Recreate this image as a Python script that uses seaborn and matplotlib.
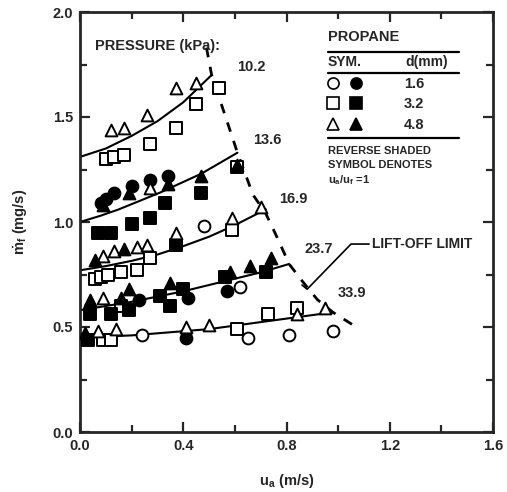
import matplotlib
matplotlib.use("Agg")
import matplotlib.pyplot as plt
import numpy as np
import pandas as pd
import seaborn as sns
from matplotlib.lines import Line2D
from matplotlib.legend_handler import HandlerTuple
from matplotlib.ticker import MultipleLocator

# ---------------- data ----------------
open_circle_x = [0.48, 0.62, 0.65, 0.81, 0.98, 0.24]
open_circle_y = [0.98, 0.69, 0.45, 0.46, 0.48, 0.46]

filled_circle_x = [0.08, 0.10, 0.13, 0.20, 0.27, 0.34, 0.23, 0.42, 0.57, 0.41]
filled_circle_y = [1.09, 1.11, 1.14, 1.17, 1.20, 1.22, 0.63, 0.64, 0.67, 0.45]

open_square_x = [0.10, 0.13, 0.17, 0.27, 0.37, 0.45, 0.54, 0.61,
                 0.06, 0.08, 0.11, 0.16, 0.22, 0.27, 0.59,
                 0.16, 0.09, 0.12, 0.61, 0.73, 0.84]
open_square_y = [1.30, 1.31, 1.32, 1.37, 1.45, 1.56, 1.64, 1.26,
                 0.73, 0.74, 0.75, 0.76, 0.77, 0.83, 0.96,
                 0.60, 0.44, 0.44, 0.49, 0.56, 0.59]

filled_square_x = [0.07, 0.12, 0.20, 0.27, 0.33, 0.47, 0.37,
                   0.04, 0.12, 0.19, 0.31, 0.35, 0.40, 0.56, 0.72, 0.03]
filled_square_y = [0.95, 0.95, 0.99, 1.02, 1.09, 1.14, 0.89,
                   0.56, 0.56, 0.58, 0.65, 0.60, 0.68, 0.74, 0.76, 0.44]

open_triangle_x = [0.12, 0.17, 0.26, 0.37, 0.45, 0.27,
                   0.09, 0.13, 0.22, 0.26, 0.37, 0.59, 0.70,
                   0.09, 0.07, 0.14, 0.41, 0.50, 0.84, 0.95]
open_triangle_y = [1.44, 1.45, 1.51, 1.64, 1.66, 1.16,
                   0.84, 0.86, 0.88, 0.89, 0.95, 1.02, 1.07,
                   0.64, 0.48, 0.49, 0.50, 0.51, 0.56, 0.59]

filled_triangle_x = [0.09, 0.19, 0.34, 0.47, 0.61, 0.06, 0.17,
                     0.04, 0.16, 0.19, 0.35, 0.58, 0.66, 0.74, 0.02]
filled_triangle_y = [1.08, 1.14, 1.18, 1.22, 1.27, 0.82, 0.87,
                     0.63, 0.64, 0.68, 0.71, 0.76, 0.79, 0.83, 0.47]

# fitted curves for each pressure
pressures = ["10.2", "13.6", "16.9", "23.7", "33.9"]
curve_x = [[0.0, 0.10, 0.20, 0.30, 0.40, 0.51],
           [0.0, 0.08, 0.15, 0.23, 0.31, 0.39, 0.47, 0.54, 0.61],
           [0.0, 0.10, 0.20, 0.30, 0.40, 0.50, 0.60, 0.72],
           [0.0, 0.10, 0.20, 0.30, 0.40, 0.50, 0.60, 0.70, 0.81],
           [0.0, 0.20, 0.35, 0.50, 0.62, 0.80, 0.98]]
curve_y = [[1.31, 1.35, 1.41, 1.48, 1.57, 1.70],
           [1.00, 1.03, 1.06, 1.10, 1.14, 1.185, 1.23, 1.28, 1.33],
           [0.77, 0.79, 0.815, 0.845, 0.885, 0.93, 0.985, 1.06],
           [0.58, 0.60, 0.62, 0.645, 0.67, 0.70, 0.73, 0.76, 0.80],
           [0.45, 0.46, 0.475, 0.49, 0.51, 0.54, 0.57]]
label_x = [0.61, 0.67, 0.77, 0.87, 1.00]
label_y = [1.74, 1.39, 1.11, 0.87, 0.66]

# lift-off limit (dashed)
lift_x = [0.49, 0.51, 0.61, 0.67, 0.72, 0.77, 0.81, 0.86, 0.92, 0.98, 1.07]
lift_y = [1.83, 1.70, 1.33, 1.13, 1.04, 0.91, 0.80, 0.72, 0.63, 0.57, 0.50]

legend_d = ["1.6", "3.2", "4.8"]

# ---------------- style ----------------
sns.set_style("ticks")
plt.rcParams["font.family"] = ["Liberation Sans", "DejaVu Sans"]
plt.rcParams["font.weight"] = "bold"
plt.rcParams["mathtext.default"] = "regular"
plt.rcParams["axes.linewidth"] = 2.0

fig = plt.figure(figsize=(5.07, 4.92), dpi=100)
ax = fig.add_axes([80 / 507, 1 - 432 / 492, (493 - 80) / 507, (432 - 12) / 492])

S = 72
groups = [
    (open_circle_x, open_circle_y, "o", "white"),
    (filled_circle_x, filled_circle_y, "o", "black"),
    (open_square_x, open_square_y, "s", "white"),
    (filled_square_x, filled_square_y, "s", "black"),
    (open_triangle_x, open_triangle_y, "^", "white"),
    (filled_triangle_x, filled_triangle_y, "^", "black"),
]
for gx, gy, mk, fc in groups:
    df = pd.DataFrame({"u": gx, "m": gy})
    sns.scatterplot(data=df, x="u", y="m", marker=mk, s=S, color=fc,
                    edgecolor="black", linewidth=1.4, ax=ax, zorder=3)

for cx, cy in zip(curve_x, curve_y):
    sns.lineplot(x=cx, y=cy, sort=False, color="black", lw=1.5, ax=ax, zorder=2)

sns.lineplot(x=lift_x, y=lift_y, sort=False, color="black", lw=2.0,
             linestyle=(0, (3.5, 3.5)), ax=ax, zorder=2)

for p, lx, ly in zip(pressures, label_x, label_y):
    ax.text(lx, ly, p, fontsize=10.5, fontweight="bold", va="center", ha="left")

ax.text(0.06, 1.84, "PRESSURE (kPa):", fontsize=10.5, fontweight="bold",
        va="center", ha="left")

# lift-off limit leader
ax.plot([0.86, 0.88, 1.05, 1.12], [0.70, 0.68, 0.895, 0.895], color="black", lw=1.2)
ax.text(1.13, 0.895, "LIFT-OFF LIMIT", fontsize=10, fontweight="bold",
        va="center", ha="left")

# legend block
ax.text(0.96, 1.88, "PROPANE", fontsize=10.5, fontweight="bold", va="center", ha="left")
ax.text(0.96, 1.76, "SYM.", fontsize=10, fontweight="bold", va="center", ha="left")
ax.text(1.26, 1.76, "d(mm)", fontsize=10, fontweight="bold", va="center", ha="left")
for yy in [1.81, 1.71, 1.40]:
    ax.plot([0.96, 1.47], [yy, yy], color="black", lw=1.6)
ax.text(0.96, 1.34, "REVERSE SHADED", fontsize=8, fontweight="bold", va="center", ha="left")
ax.text(0.96, 1.27, "SYMBOL DENOTES", fontsize=8, fontweight="bold", va="center", ha="left")
ax.text(0.96, 1.20, r"$u_a / u_f$ =1", fontsize=8, fontweight="bold", va="center", ha="left")

handles = []
for mk in ["o", "s", "^"]:
    h_open = Line2D([], [], marker=mk, ls="none", mfc="white", mec="black", mew=1.2, ms=8)
    h_fill = Line2D([], [], marker=mk, ls="none", mfc="black", mec="black", mew=1.2, ms=8)
    handles.append((h_open, h_fill))
leg = ax.legend(handles, legend_d, handler_map={tuple: HandlerTuple(ndivide=None, pad=0.6)},
                loc="center left", bbox_to_anchor=(0.95, 1.56), bbox_transform=ax.transData,
                frameon=False, fontsize=10.5, handlelength=2.6, handletextpad=2.8,
                labelspacing=0.45, borderpad=0, borderaxespad=0)

# axes
ax.set_xlim(0, 1.6)
ax.set_ylim(0, 2.0)
ax.xaxis.set_major_locator(MultipleLocator(0.4))
ax.xaxis.set_minor_locator(MultipleLocator(0.2))
ax.yaxis.set_major_locator(MultipleLocator(0.5))
ax.yaxis.set_minor_locator(MultipleLocator(0.25))
ax.set_xticks([0, 0.4, 0.8, 1.2, 1.6])
ax.set_xticklabels(["0.0", "0.4", "0.8", "1.2", "1.6"])
ax.set_yticks([0, 0.5, 1.0, 1.5, 2.0])
ax.set_yticklabels(["0.0", "0.5", "1.0", "1.5", "2.0"])
ax.tick_params(which="both", direction="in", top=True, right=True, width=1.6)
ax.tick_params(which="major", length=7, labelsize=10.5, pad=5)
ax.tick_params(which="minor", length=5)
for lab in ax.get_xticklabels() + ax.get_yticklabels():
    lab.set_fontweight("bold")
for s in ax.spines.values():
    s.set_linewidth(2.0)

ax.set_xlabel(r"$u_a$ (m/s)", fontsize=10.5, fontweight="bold", labelpad=14)
ax.set_ylabel(r"$\dot{m}_f$ (mg/s)", fontsize=10.5, fontweight="bold", labelpad=16)

fig.savefig("out.png", dpi=100)
